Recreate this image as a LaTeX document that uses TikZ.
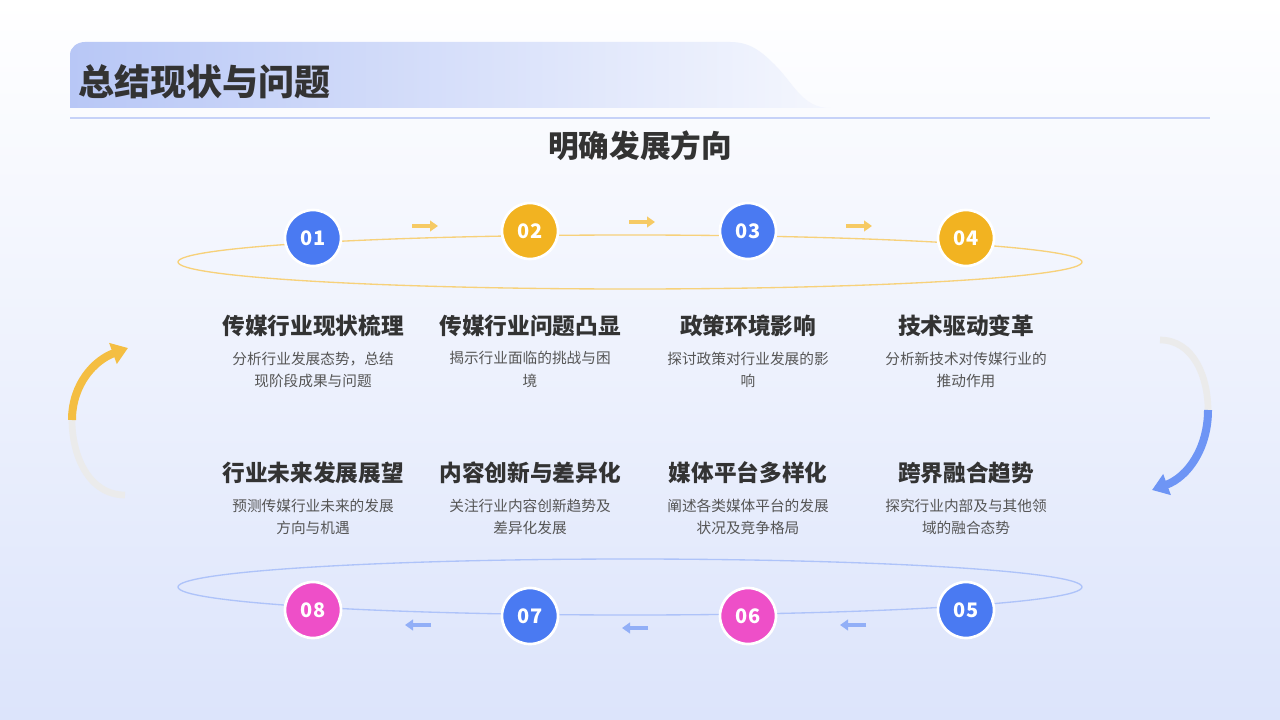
\documentclass[tikz,border=0pt]{standalone}
\usepackage{fontspec}
\setmainfont{Noto Sans CJK SC}
\usetikzlibrary{arrows.meta,positioning,shapes.geometric}
\definecolor{myblue}{HTML}{4A7AF2}
\definecolor{myorange}{HTML}{F2B321}
\definecolor{mypink}{HTML}{EE4FC8}
\definecolor{textgray}{HTML}{333333}
\definecolor{bodygray}{HTML}{555555}
\definecolor{bandblue}{HTML}{B8C7F6}
\definecolor{bgblue}{HTML}{DCE4FB}
\tikzset{
  num/.style={circle,minimum size=42pt,inner sep=0pt,draw=white,line width=2pt,
    text=white,font=\fontsize{15}{15}\selectfont\bfseries},
  ttl/.style={font=\fontsize{17}{19}\selectfont\bfseries,text=textgray},
  body/.style={font=\fontsize{11}{17}\selectfont,text=bodygray,align=center},
  steparrow/.style={-{Triangle[length=6pt,width=8pt]},line width=3pt},
}
\begin{document}
\begin{tikzpicture}[x=0.75pt,y=-0.75pt]
\useasboundingbox (0,0) rectangle (1280,720);
% background
\shade[top color=white,bottom color=bgblue] (0,0) rectangle (1280,720);
% header band
\shade[left color=bandblue,right color=white!85!bandblue]
  (70,108) -- (70,55) to[out=90,in=180] (85,42) -- (730,42)
  to[out=0,in=135] (775,65) to[out=-45,in=180] (830,108) -- cycle;
\node[anchor=west,font=\fontsize{27}{29}\selectfont\bfseries,text=textgray] (head) at (74,82) {总结现状与问题};
\draw[color=bandblue!80,line width=1pt] (70,118) -- (1210,118);
\node[font=\fontsize{23}{25}\selectfont\bfseries,text=textgray] (sub) at (640,146) {明确发展方向};
% orbits
\draw[myorange!60,line width=1pt] (630,262) ellipse (452 and 27);
\draw[myblue!45,line width=1pt] (630,587) ellipse (452 and 28);
% circles
\node[num,fill=myblue] (n1) at (313,238) {01};
\node[num,fill=myorange] (n2) at (530,231) {02};
\node[num,fill=myblue] (n3) at (748,231) {03};
\node[num,fill=myorange] (n4) at (966,238) {04};
\node[num,fill=myblue] (n5) at (966,610) {05};
\node[num,fill=mypink] (n6) at (748,616) {06};
\node[num,fill=myblue] (n7) at (530,616) {07};
\node[num,fill=mypink] (n8) at (313,610) {08};
% small arrows
\foreach \x/\y in {428/226,645/222,862/226}{
  \coordinate (s) at (\x-16,\y); \coordinate (e) at (\x+10,\y);
  \draw[steparrow,myorange!70] (s) -- (e);
}
\foreach \x/\y in {415/625,632/628,850/625}{
  \coordinate (s) at (\x+16,\y); \coordinate (e) at (\x-10,\y);
  \draw[steparrow,myblue!60] (s) -- (e);
}
% side arrows
\draw[line width=5pt,black!8] (125,495) to[out=180,in=-90] (72,420);
\draw[line width=6pt,myorange!85,-{Triangle[length=12pt,width=16pt]}] (72,420) to[out=90,in=200] (128,348);
\draw[line width=5pt,black!8] (1160,340) to[out=0,in=90] (1208,410);
\draw[line width=6pt,myblue!80,-{Triangle[length=12pt,width=16pt]}] (1208,410) to[out=-90,in=20] (1152,490);
% texts
\node[ttl] (t1) at (313,326) {传媒行业现状梳理};
\node[ttl] (t2) at (530,326) {传媒行业问题凸显};
\node[ttl] (t3) at (748,326) {政策环境影响};
\node[ttl] (t4) at (966,326) {技术驱动变革};
\node[body,below=4pt of t1] (b1) {分析行业发展态势，总结\\现阶段成果与问题};
\node[body,below=4pt of t2] (b2) {揭示行业面临的挑战与困\\境};
\node[body,below=4pt of t3] (b3) {探讨政策对行业发展的影\\响};
\node[body,below=4pt of t4] (b4) {分析新技术对传媒行业的\\推动作用};
\node[ttl] (t8) at (313,473) {行业未来发展展望};
\node[ttl] (t7) at (530,473) {内容创新与差异化};
\node[ttl] (t6) at (748,473) {媒体平台多样化};
\node[ttl] (t5) at (966,473) {跨界融合趋势};
\node[body,below=4pt of t8] (b8) {预测传媒行业未来的发展\\方向与机遇};
\node[body,below=4pt of t7] (b7) {关注行业内容创新趋势及\\差异化发展};
\node[body,below=4pt of t6] (b6) {阐述各类媒体平台的发展\\状况及竞争格局};
\node[body,below=4pt of t5] (b5) {探究行业内部及与其他领\\域的融合态势};
\end{tikzpicture}
\end{document}
